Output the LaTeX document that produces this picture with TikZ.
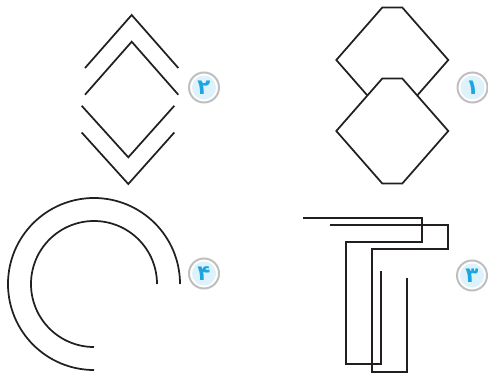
\documentclass[tikz,border=0pt]{standalone}
\usepackage{fontspec}
\newfontfamily\arabicfont[Script=Arabic]{DejaVu Sans}
\usepackage{tikz}
\definecolor{ink}{HTML}{231F20}
\definecolor{badgeblue}{HTML}{1BA6E3}
\definecolor{badgefill}{HTML}{DDF2FB}
\tikzset{
  shape line/.style={ink,line width=1.3pt},
  badge/.style={circle,draw=gray!50,line width=1.5pt,fill=white,minimum size=22.5pt,inner sep=0pt,
    text=badgeblue,font={\arabicfont\bfseries\fontsize{16pt}{16pt}\selectfont},
    path picture={\fill[badgefill] (path picture bounding box.center) circle (9pt);}}
}

\begin{document}
\begin{tikzpicture}[x=0.75pt,y=-0.75pt]
	  \useasboundingbox (0,0) rectangle (488,374);
	  % 1
	  \foreach \t in {7.5,78.5}
	    \filldraw[shape line,fill=white] (382.3,\t)--(402.3,\t)--(448.3,\t+52.5)--(402.3,\t+105)--(382.3,\t+105)--(336.3,\t+52.5)--cycle;
	  % 2
	  \foreach \t in {15,41.7}
	    \draw[shape line] (85,\t+53)--(131.7,\t)--(178.3,\t+53);
	  \foreach \t in {157.3,184}
	    \draw[shape line] (81.7,\t-51.5)--(128.3,\t)--(174.3,\t-51.5);
	  % 3
	  \draw[shape line] (303,218.3)-|(422.3,241.7)-|(345.7,364)-|(380.7,271);
	  \draw[shape line] (329.7,224.7)-|(448.3,249)-|(372.3,371.7)-|(407.3,278.3);
	  % 4
	  \draw[shape line] (180,284) arc[start angle=0,end angle=-270,radius=86];
	  \draw[shape line] (157,284) arc[start angle=0,end angle=-270,radius=63];
	  \node[badge] (n1) at (472.5,87.5) {۱};
	  \node[badge] (n2) at (204,87.5) {۲};
	  \node[badge] (n3) at (472,275.5) {۳};
	  \node[badge] (n4) at (204,273.5) {۴};
	\end{tikzpicture}
\end{document}
